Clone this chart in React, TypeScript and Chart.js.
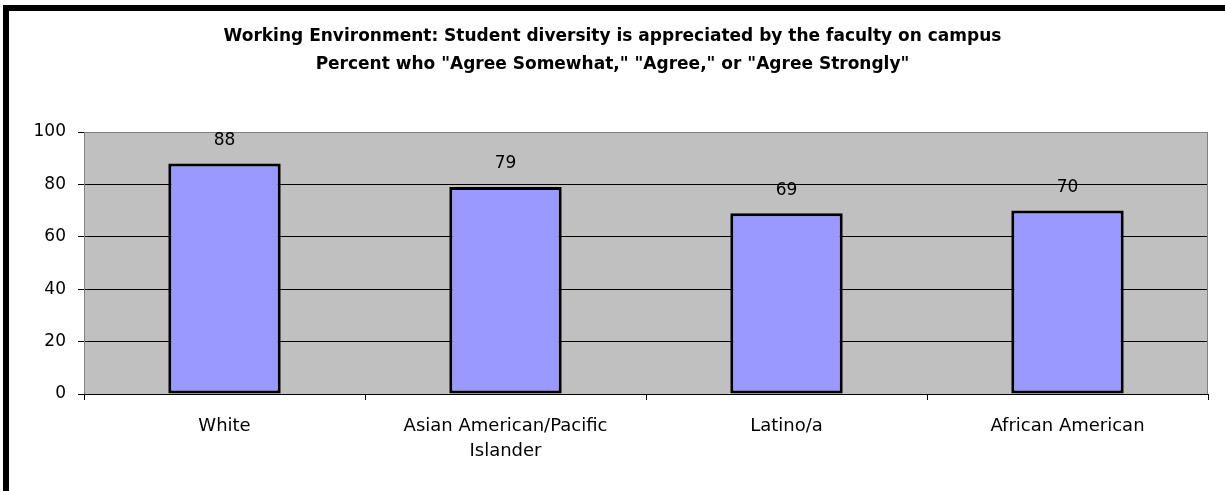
import React, { useEffect, useRef } from "react";
import { Chart, registerables } from "chart.js";

Chart.register(...registerables);

const titleLines = [
  "Working Environment: Student diversity is appreciated by the faculty on campus",
  'Percent who "Agree Somewhat," "Agree," or "Agree Strongly"',
];
const categories: (string | string[])[] = [
  "White",
  ["Asian American/Pacific", "Islander"],
  "Latino/a",
  "African American",
];
const percentAgree = [88, 79, 69, 70];
const yTicks = [0, 20, 40, 60, 80, 100];

const FONT = "'DejaVu Sans', sans-serif";

const framePlugin = {
  id: "frame",
  beforeDraw(chart: any) {
    const { ctx, width, height, chartArea } = chart;
    ctx.save();
    ctx.fillStyle = "#ffffff";
    ctx.fillRect(0, 0, width, height);
    // outer border (left & top visible)
    ctx.fillStyle = "#000000";
    ctx.fillRect(3, 5, 6, height);
    ctx.fillRect(3, 5, width, 6);
    // plot background
    ctx.fillStyle = "#C0C0C0";
    ctx.fillRect(chartArea.left, chartArea.top, chartArea.right - chartArea.left, chartArea.bottom - chartArea.top);
    // title
    ctx.fillStyle = "#000000";
    ctx.font = `bold 17px ${FONT}`;
    ctx.textAlign = "center";
    ctx.textBaseline = "middle";
    ctx.fillText(titleLines[0], width / 2, 37);
    ctx.fillText(titleLines[1], width / 2, 65);
    ctx.restore();
  },
  beforeDatasetsDraw(chart: any) {
    const { ctx, chartArea } = chart;
    ctx.save();
    ctx.strokeStyle = "#808080";
    ctx.lineWidth = 1;
    ctx.beginPath();
    ctx.moveTo(chartArea.left + 0.5, chartArea.bottom);
    ctx.lineTo(chartArea.left + 0.5, chartArea.top + 0.5);
    ctx.lineTo(chartArea.right - 0.5, chartArea.top + 0.5);
    ctx.lineTo(chartArea.right - 0.5, chartArea.bottom);
    ctx.stroke();
    ctx.strokeStyle = "#000000";
    ctx.beginPath();
    ctx.moveTo(chartArea.left, chartArea.bottom + 0.5);
    ctx.lineTo(chartArea.right, chartArea.bottom + 0.5);
    ctx.stroke();
    ctx.restore();
  },
  afterDatasetsDraw(chart: any) {
    const { ctx } = chart;
    const meta = chart.getDatasetMeta(0);
    ctx.save();
    ctx.fillStyle = "#000000";
    ctx.font = `17px ${FONT}`;
    ctx.textAlign = "center";
    ctx.textBaseline = "middle";
    meta.data.forEach((bar: any, i: number) => {
      ctx.fillText(String(percentAgree[i]), bar.x, bar.y - 23);
    });
    ctx.restore();
  },
};

export default function App() {
  const ref = useRef<HTMLCanvasElement>(null);
  useEffect(() => {
    document.body.style.margin = "0";
    const chart = new Chart(ref.current!, {
      type: "bar",
      data: {
        labels: categories,
        datasets: [
          {
            data: percentAgree,
            backgroundColor: "#9999FF",
            borderColor: "#000000",
            borderWidth: 3,
            borderSkipped: false,
            barPercentage: 0.4,
            categoryPercentage: 1.0,
          },
        ],
      },
      options: {
        responsive: false,
        animation: false,
        devicePixelRatio: 1,
        layout: { padding: { top: 132, right: 17, left: 0, bottom: 0 } },
        plugins: {
          legend: { display: false },
          title: { display: false },
          tooltip: { enabled: false },
        },
        scales: {
          x: {
            grid: {
              offset: true,
              drawOnChartArea: false,
              drawTicks: true,
              tickLength: 6,
              color: "#000000",
            },
            border: { display: false },
            ticks: {
              color: "#000000",
              font: { family: FONT, size: 18, lineHeight: 1.4 },
              padding: 14,
              maxRotation: 0,
              autoSkip: false,
            },
            afterFit(scale: any) {
              scale.height = 97;
            },
          },
          y: {
            min: 0,
            max: 100,
            afterBuildTicks(scale: any) {
              scale.ticks = yTicks.map((v) => ({ value: v }));
            },
            grid: {
              color: (c: any) => (c.tick && c.tick.value === 100 ? "#808080" : "#000000"),
              tickColor: "#000000",
              drawTicks: true,
              tickLength: 6,
            },
            border: { display: false },
            ticks: {
              color: "#000000",
              font: { family: FONT, size: 17 },
              padding: 12,
            },
            afterFit(scale: any) {
              scale.width = 84;
            },
          },
        },
      },
      plugins: [framePlugin],
    });
    return () => chart.destroy();
  }, []);
  return (
    <div style={{ position: "absolute", left: 0, top: 0, width: 1225, height: 491 }}>
      <canvas ref={ref} width={1225} height={491} />
    </div>
  );
}
